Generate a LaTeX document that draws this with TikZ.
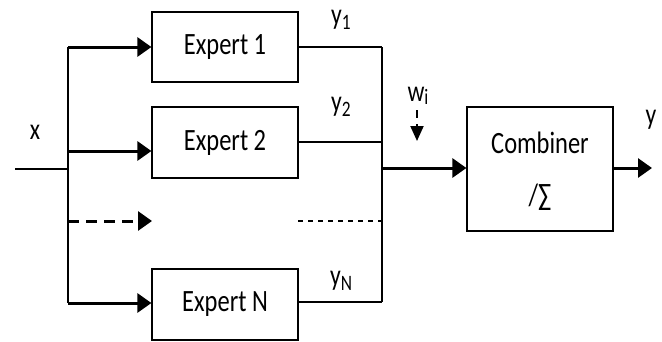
\documentclass[tikz,border=0pt]{standalone}
\usepackage{fontspec}
\usepackage{graphicx}
\setmainfont{Carlito}
\usetikzlibrary{arrows.meta}
\newcommand\sq[1]{\scalebox{0.79}[1]{#1}}
\newcommand\lowsub[2][-5pt]{\raisebox{#1}{\fontsize{22}{24}\selectfont #2}}
\begin{document}
\begin{tikzpicture}[x=1pt,y=-1pt,
  box/.style={draw,line width=1.2pt,minimum width=146pt,minimum height=70pt,inner sep=0pt,font=\fontsize{31}{34}\selectfont},
  lbl/.style={inner sep=0pt,font=\fontsize{30}{33}\selectfont},
  thin/.style={line width=1.2pt},
  vline/.style={line width=2pt},
  thick arrow/.style={line width=3pt,-{Triangle[length=14pt,width=19pt]}}]
\useasboundingbox (0,0) rectangle (662,341);
% expert boxes
\node[box] (e1) at (225,47) {\sq{Expert 1}};
\node[box,minimum height=71pt] (e2) at (225,142.5) {\sq{Expert 2}};
\node[box,minimum height=71pt] (eN) at (225,304.5) {\sq{Expert N}};
\node[box,minimum height=124pt] (comb) at (540,169) {};
\node[lbl,font=\fontsize{31}{34}\selectfont] (ct) at (540,143) {\sq{Combiner}};
\node[lbl,font=\fontsize{31}{34}\selectfont] (cs) at (540,197) {\sq{/∑}};
% input
\coordinate (xin) at (15,169);
\coordinate (xv) at (68,169);
\coordinate (vt) at (68,47);
\coordinate (vb) at (68,303);
\coordinate (v2) at (68,151);
\coordinate (vd) at (68,221);
\coordinate (dend) at (152,221);
\node[lbl] (xl) at (35,132) {\sq{x}};
\draw[thin] (xin) -- (xv);
\draw[vline] (vt) -- (vb);
\draw[thick arrow] (vt) -- (e1.west);
\draw[thick arrow] (v2) -- (e2.west |- v2);
\draw[thick arrow] (vb) -- (eN.west |- vb);
\draw[line width=3pt,dash pattern=on 11pt off 7pt,-{Triangle[length=14pt,width=19pt]}] (vd) -- (dend);
% outputs
\coordinate (r1) at (382,47);
\coordinate (r2) at (382,142);
\coordinate (rN) at (382,302);
\coordinate (rd) at (382,221);
\coordinate (rm) at (382,168);
\coordinate (ld) at (298,221);
\draw[thin] (e1.east |- r1) -- (r1);
\draw[thin] (e2.east |- r2) -- (r2);
\draw[thin] (eN.east |- rN) -- (rN);
\draw[thin,dash pattern=on 5pt off 5pt] (ld) -- (rd);
\draw[vline] (r1) -- (rN);
\draw[thick arrow] (rm) -- (comb.west |- rm);
\coordinate (out) at (652,168);
\draw[thick arrow] (comb.east |- out) -- (out);
% labels
\node[lbl] (y1) at (341,20) {\sq{y\lowsub{1}}};
\node[lbl] (y2) at (341,107) {\sq{y\lowsub{2}}};
\node[lbl] (yN) at (341,281) {\sq{y\lowsub{N}}};
\node[lbl] (wl) at (418,96) {\sq{w\lowsub[-3pt]{i}}};
\node[lbl] (yo) at (651,120) {\sq{y}};
\coordinate (wa) at (417,110);
\coordinate (wb) at (417,141);
\draw[line width=2pt,dash pattern=on 8pt off 6pt,-{Triangle[length=15pt,width=13pt]}] (wa) -- (wb);
\end{tikzpicture}
\end{document}
